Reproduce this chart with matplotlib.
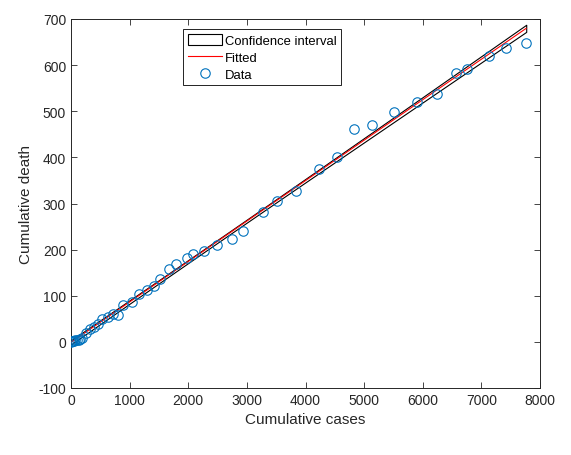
"""Cumulative death vs cumulative cases, linear fit with confidence band."""
import numpy as np
import matplotlib
matplotlib.use("Agg")
import matplotlib.pyplot as plt
from matplotlib.patches import Patch
from matplotlib.lines import Line2D

plt.rcParams["font.family"] = ["Liberation Sans", "DejaVu Sans"]
plt.rcParams["axes.unicode_minus"] = False

cases = [0, 15, 30, 50, 70, 100, 130, 160, 190, 250, 324, 398, 466, 535, 626,
         711, 796, 893, 1035, 1160, 1291, 1422, 1519, 1672, 1786, 1974, 2087,
         2270, 2486, 2742, 2941, 3282, 3510, 3834, 4238, 4545, 4835, 5131,
         5512, 5910, 6240, 6570, 6752, 7133, 7418, 7765]
deaths = [0, 1, 1, 2, 3, 4, 5, 6, 8, 19, 27, 32, 39, 50, 54,
          61, 59, 79, 87, 103, 113, 122, 137, 157, 169, 181, 191,
          198, 209, 222, 241, 281, 306, 328, 375, 401, 461, 471,
          498, 521, 537, 583, 592, 619, 638, 649]
t_crit = 2.015  # t(0.975, n-2)

x = np.array(cases, dtype=float)
y = np.array(deaths, dtype=float)
n = len(x)
slope, intercept = np.polyfit(x, y, 1)
resid = y - (slope * x + intercept)
s = np.sqrt(np.sum(resid ** 2) / (n - 2))
xbar = x.mean()
sxx = np.sum((x - xbar) ** 2)

xs = np.linspace(x.min(), x.max(), 200)
yfit = slope * xs + intercept
half = t_crit * s * np.sqrt(1.0 / n + (xs - xbar) ** 2 / sxx)

fig = plt.figure(figsize=(5.71, 4.56), dpi=100)
ax = fig.add_axes([71 / 571, 1 - 389 / 456, 469 / 571, 369 / 456])

ax.fill_between(xs, yfit - half, yfit + half, facecolor="white",
                edgecolor="black", linewidth=0.8, zorder=2)
ax.plot(xs, yfit, color="red", linewidth=0.8, zorder=3)
ax.plot(x, y, "o", markerfacecolor="none", markeredgecolor="#0072BD",
        markersize=6.8, markeredgewidth=0.8, zorder=4)

ax.set_xlim(0, 8000)
ax.set_ylim(-100, 700)
ax.set_xticks(np.arange(0, 8001, 1000))
ax.set_yticks(np.arange(-100, 701, 100))
ax.set_xlabel("Cumulative cases", fontsize=11, color="#262626")
ax.set_ylabel("Cumulative death", fontsize=11, color="#262626")
ax.tick_params(direction="in", top=True, right=True, length=4, width=0.6,
               labelsize=10, colors="#262626")
for sp in ax.spines.values():
    sp.set_color("#262626")
    sp.set_linewidth(0.7)

handles = [
    Patch(facecolor="white", edgecolor="black", linewidth=0.8),
    Line2D([], [], color="red", linewidth=0.8),
    Line2D([], [], linestyle="none", marker="o", markerfacecolor="none",
           markeredgecolor="#0072BD", markersize=6.8, markeredgewidth=0.8),
]
leg = fig.legend(handles, ["Confidence interval", "Fitted", "Data"],
                 loc="upper left", bbox_to_anchor=(183 / 571, 1 - 30 / 456),
                 fontsize=9.4, frameon=True, fancybox=False, framealpha=1,
                 edgecolor="black", handlelength=2.6, handleheight=0.95,
                 handletextpad=0.25, labelspacing=0.3, borderpad=0.35,
                 borderaxespad=0)
leg.get_frame().set_linewidth(0.6)

fig.savefig("out.png", dpi=100)
plt.close(fig)
